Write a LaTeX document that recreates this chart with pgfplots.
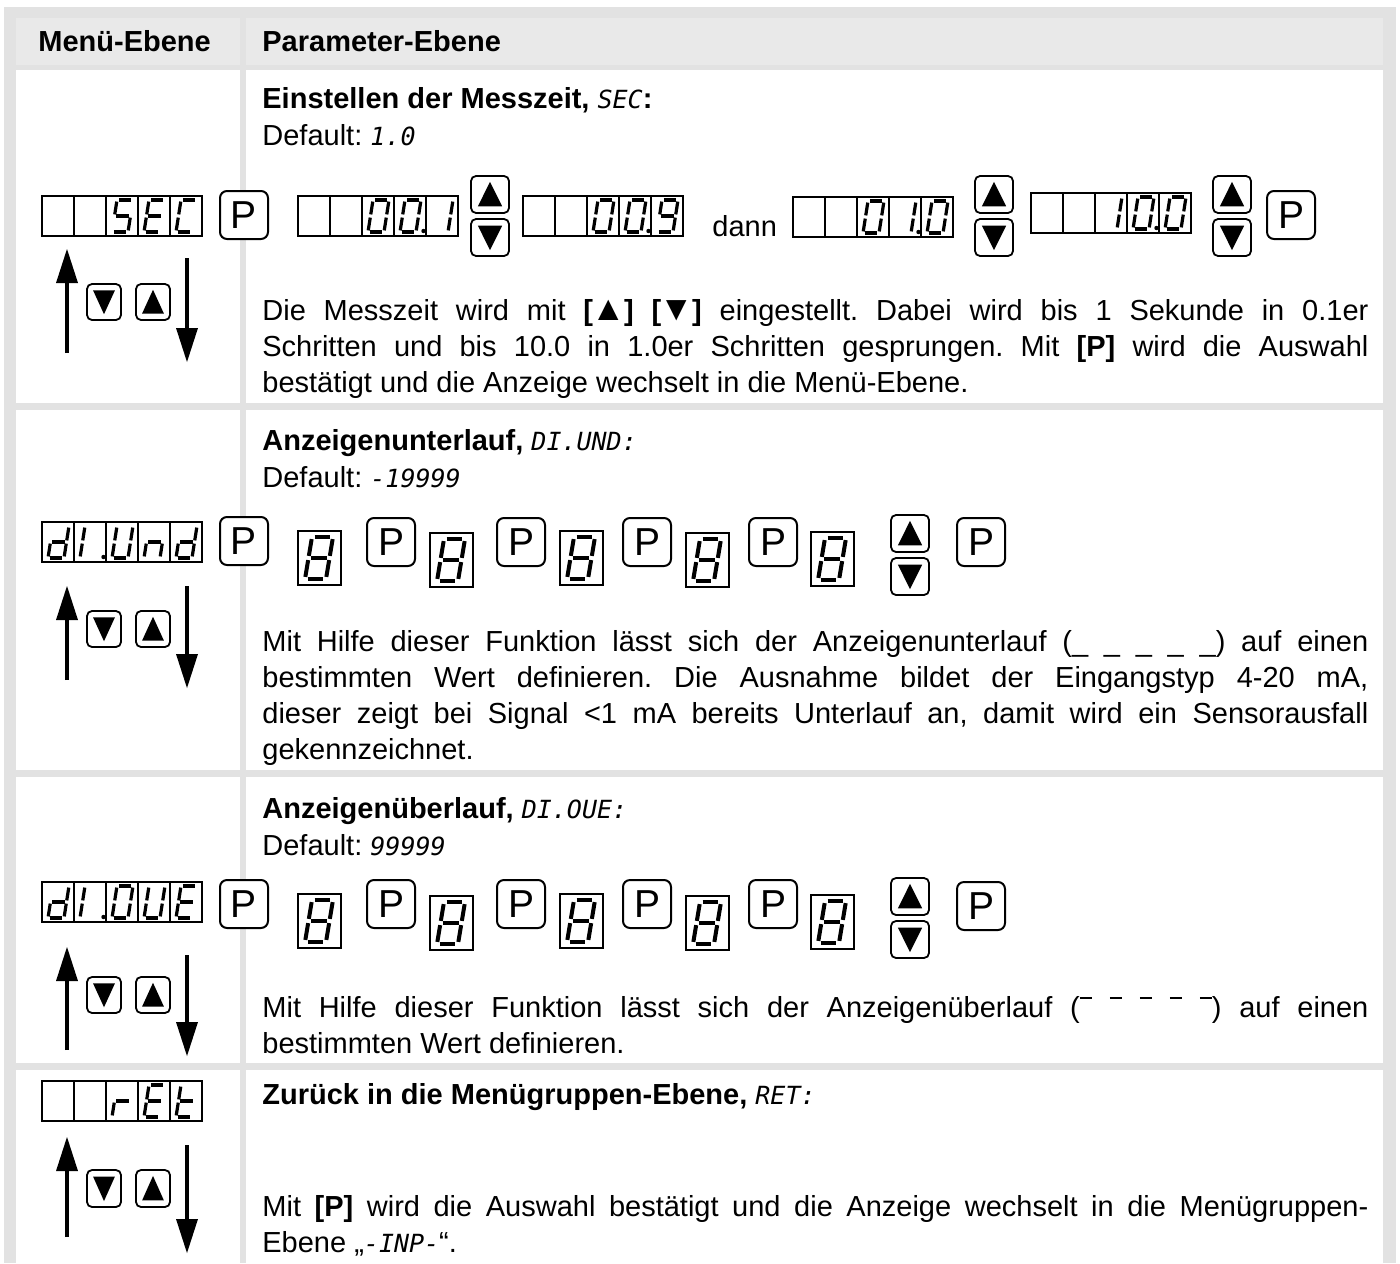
\documentclass[border=0pt]{standalone}
\usepackage{fontspec}
\setmainfont{Liberation Sans}
\newfontfamily\lcdf{DejaVu Sans Mono}
\usepackage{graphicx}
\usepackage{pgfplots}
\pgfplotsset{compat=1.18}
\definecolor{frame}{RGB}{226,226,226}
\definecolor{head}{RGB}{233,233,233}
\frenchspacing
\newcommand\body{\fontsize{14.5pt}{18pt}\selectfont}
\newcommand\lcd[1]{{\lcdf\fontsize{12.5pt}{13pt}\selectfont\itshape #1}}
\newcommand\ov{\rule[0.62em]{0.42em}{0.06em}}
\newcommand\tu{\kern-0.06em\scalebox{1.2}{▲}\kern-0.06em}
\newcommand\td{\kern-0.06em\scalebox{1.2}{▼}\kern-0.06em}
% seven segment drawing
\newcommand\sg[4]{\draw[line width=\SW,line cap=butt] ({(\DX)+(#1)*(\DW)+(#2)*(\DS)},{(\DY)-(#2)*(\DH)}) -- ({(\DX)+(#3)*(\DW)+(#4)*(\DS)},{(\DY)-(#4)*(\DH)});}
\newcommand\sega{\sg{0.12}{1}{0.88}{1}}
\newcommand\segb{\sg{1}{0.95}{1}{0.55}}
\newcommand\segc{\sg{1}{0.45}{1}{0.05}}
\newcommand\segd{\sg{0.12}{0}{0.88}{0}}
\newcommand\sege{\sg{0}{0.45}{0}{0.05}}
\newcommand\segf{\sg{0}{0.95}{0}{0.55}}
\newcommand\segg{\sg{0.12}{0.5}{0.88}{0.5}}
\newcommand\digit[7]{\def\DX{#1}\def\DY{#2}\def\DW{#3}\def\DH{#4}\def\DS{#5}\def\SW{#6}\foreach \q in {#7}{\csname seg\q\endcsname}}
% display of 5 cells
\newcommand\disp[2]{\fill[white] (#1,#2) rectangle ({#1+160},{#2+40});\draw[line width=0.6pt] (#1,#2) rectangle ({#1+160},{#2+40});
  \foreach \k in {1,...,4}{\draw[line width=0.6pt] ({#1+32*\k},#2) -- ({#1+32*\k},{#2+40});}}
\newcommand\cd[4]{\digit{#1+32*(#3-1)+6}{#2+36}{16}{32}{5}{1.6pt}{#4}}
\newcommand\dpt[3]{\fill ({#1+32*#3-2.5},{#2+35}) circle (1.1pt);}
% buttons
\newcommand\btnup[4]{\filldraw[fill=white,line width=0.9pt,rounded corners=2.5pt] (#1,#2) rectangle ({#1+#3},{#2+#4});
  \fill ({#1+0.18*#3},{#2+0.82*#4}) -- ({#1+0.82*#3},{#2+0.82*#4}) -- ({#1+0.5*#3},{#2+0.16*#4}) -- cycle;}
\newcommand\btndown[4]{\filldraw[fill=white,line width=0.9pt,rounded corners=2.5pt] (#1,#2) rectangle ({#1+#3},{#2+#4});
  \fill ({#1+0.18*#3},{#2+0.18*#4}) -- ({#1+0.82*#3},{#2+0.18*#4}) -- ({#1+0.5*#3},{#2+0.84*#4}) -- cycle;}
\newcommand\ud[2]{\btnup{#1}{#2}{38}{37}\btndown{#1}{#2+43}{38}{37}}
\newcommand\pb[2]{\filldraw[fill=white,line width=1pt,rounded corners=3.5pt] (#1,#2) rectangle ({#1+48},{#2+48});
  \node[inner sep=0pt,font=\fontsize{19.5pt}{20pt}\selectfont] at ({#1+24},{#2+24}) {P};}
\newcommand\eight[2]{\draw[line width=0.6pt] (#1,#2) rectangle ({#1+43},{#2+54});
  \digit{#1+7}{#2+48}{21}{42}{7}{2pt}{a,b,c,d,e,f,g}}
% navigation in left column
\newcommand\nav[6]{\draw[line width=2.2pt] (67,#2) -- (67,{#1+30});
  \fill (56,{#1+34}) -- (67,#1) -- (78,{#1+34}) -- cycle;
  \draw[line width=2.2pt] (187,#3) -- (187,{#4-30});
  \fill (176,{#4-34}) -- (187,#4) -- (198,{#4-34}) -- cycle;
  \btndown{87}{#5}{34}{#6}\btnup{136}{#5}{34}{#6}}
\newcommand\txt[3]{\node[anchor=base west,inner sep=0pt,font=\body] at (#1,#2) {#3};}
\newcommand\jtxt[2]{\node[anchor=base west,inner sep=0pt,font=\body] at (262,#1) {\makebox[553pt][s]{#2}};}
\begin{document}
\begin{tikzpicture}
\begin{axis}[width=700pt,height=631.5pt,scale only axis,xmin=0,xmax=1400,ymin=0,ymax=1263,y dir=reverse,hide axis,clip=false]
\addplot[draw=none] coordinates {(0,0) (1400,1263)};
\pgfplotsextra{
\fill[white] (0,0) rectangle (1400,1263);
\fill[frame] (4,7) rectangle (1396,1263);
\fill[head] (16,18) rectangle (240,65);
\fill[head] (246,18) rectangle (1383,65);
\foreach \ya/\yb in {70/403,410/770,777/1063,1070/1263}{
  \fill[white] (16,\ya) rectangle (240,\yb);
  \fill[white] (246,\ya) rectangle (1383,\yb);}
% header
\txt{38}{52}{\textbf{Menü-Ebene}}
\txt{262}{52}{\textbf{Parameter-Ebene}}
% ---------------- row 1
\txt{262}{109}{\textbf{Einstellen der Messzeit, }\lcd{SEC}\textbf{:}}
\txt{262}{145}{Default: \lcd{1.0}}
\disp{42}{196}\cd{42}{196}{3}{a,f,g,c,d}\cd{42}{196}{4}{a,f,g,e,d}\cd{42}{196}{5}{a,f,e,d}
\pb{220}{191}
\disp{298}{196}\cd{298}{196}{3}{a,b,c,d,e,f}\cd{298}{196}{4}{a,b,c,d,e,f}\dpt{298}{196}{4}\cd{298}{196}{5}{b,c}
\ud{471}{176}
\disp{523}{196}\cd{523}{196}{3}{a,b,c,d,e,f}\cd{523}{196}{4}{a,b,c,d,e,f}\dpt{523}{196}{4}\cd{523}{196}{5}{a,b,c,d,f,g}
\txt{712}{236}{dann}
\disp{793}{197}\cd{793}{197}{3}{a,b,c,d,e,f}\cd{793}{197}{4}{b,c}\dpt{793}{197}{4}\cd{793}{197}{5}{a,b,c,d,e,f}
\ud{975}{176}
\disp{1031}{193}\cd{1031}{193}{3}{b,c}\cd{1031}{193}{4}{a,b,c,d,e,f}\dpt{1031}{193}{4}\cd{1031}{193}{5}{a,b,c,d,e,f}
\ud{1213}{176}
\pb{1267}{191}
\nav{249}{353}{258}{362}{284}{36}
\jtxt{320}{Die Messzeit wird mit \textbf{[\tu] [\td]} eingestellt. Dabei wird bis 1 Sekunde in 0.1er}
\jtxt{356}{Schritten und bis 10.0 in 1.0er Schritten gesprungen. Mit \textbf{[P]} wird die Auswahl}
\txt{262}{392}{bestätigt und die Anzeige wechselt in die Menü-Ebene.}
% ---------------- row 2
\txt{262}{450}{\textbf{Anzeigenunterlauf, }\lcd{DI.UND:}}
\txt{262}{487}{Default: \lcd{-19999}}
\disp{42}{522}\cd{42}{522}{1}{b,c,d,e,g}\cd{42}{522}{2}{e,f}\dpt{42}{522}{2}\cd{42}{522}{3}{b,c,d,e,f}\cd{42}{522}{4}{c,e,g}\cd{42}{522}{5}{b,c,d,e,g}
\pb{220}{517}
\eight{298}{531}\pb{367}{518}\eight{430}{533}\pb{497}{518}\eight{560}{531}\pb{623}{518}\eight{686}{533}\pb{749}{518}\eight{811}{532}
\ud{891}{515}
\pb{957}{518}
\nav{586}{680}{586}{688}{611}{36}
\jtxt{651}{Mit Hilfe dieser Funktion lässt sich der Anzeigenunterlauf (\_ \_ \_ \_ \_) auf einen}
\jtxt{687}{bestimmten Wert definieren. Die Ausnahme bildet der Eingangstyp 4-20 mA,}
\jtxt{723}{dieser zeigt bei Signal <1 mA bereits Unterlauf an, damit wird ein Sensorausfall}
\txt{262}{759}{gekennzeichnet.}
% ---------------- row 3
\txt{262}{818}{\textbf{Anzeigenüberlauf, }\lcd{DI.OUE:}}
\txt{262}{855}{Default: \lcd{99999}}
\disp{42}{882}\cd{42}{882}{1}{b,c,d,e,g}\cd{42}{882}{2}{e,f}\dpt{42}{882}{2}\cd{42}{882}{3}{a,b,c,d,e,f}\cd{42}{882}{4}{b,c,d,e,f}\cd{42}{882}{5}{a,d,e,f,g}
\pb{220}{880}
\eight{298}{894}\pb{367}{880}\eight{430}{896}\pb{497}{880}\eight{560}{894}\pb{623}{880}\eight{686}{896}\pb{749}{880}\eight{811}{895}
\ud{891}{878}
\pb{957}{882}
\nav{947}{1050}{955}{1056}{977}{36}
\jtxt{1017}{Mit Hilfe dieser Funktion lässt sich der Anzeigenüberlauf (\ov\ \ov\ \ov\ \ov\ \ov) auf einen}
\txt{262}{1053}{bestimmten Wert definieren.}
% ---------------- row 4
\disp{42}{1081}\cd{42}{1081}{3}{e,g}\cd{42}{1081}{4}{a,d,e,f,g}\cd{42}{1081}{5}{d,e,f,g}
\txt{262}{1104}{\textbf{Zurück in die Menügruppen-Ebene, }\lcd{RET:}}
\nav{1137}{1237}{1145}{1253}{1170}{37}
\jtxt{1216}{Mit \textbf{[P]} wird die Auswahl bestätigt und die Anzeige wechselt in die Menügruppen-}
\txt{262}{1252}{Ebene „\lcd{-INP-}“.}
}
\end{axis}
\end{tikzpicture}
\end{document}
